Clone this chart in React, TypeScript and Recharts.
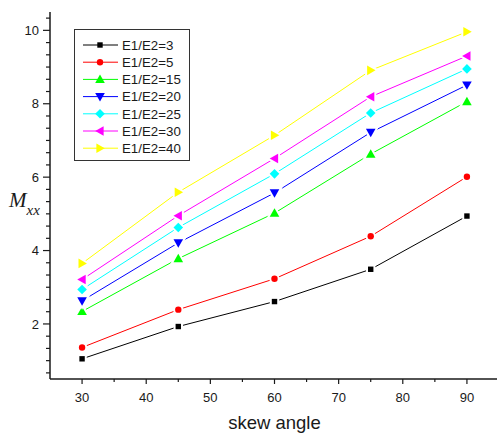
import { LineChart, Line, XAxis, YAxis, Legend } from 'recharts';

const angles = [30, 45, 60, 75, 90];
const ratio3 = [1.05, 1.93, 2.61, 3.49, 4.94];
const ratio5 = [1.36, 2.39, 3.23, 4.39, 6.01];
const ratio15 = [2.34, 3.78, 5.02, 6.63, 8.06];
const ratio20 = [2.63, 4.21, 5.57, 7.22, 8.51];
const ratio25 = [2.94, 4.63, 6.09, 7.75, 8.95];
const ratio30 = [3.21, 4.95, 6.51, 8.19, 9.3];
const ratio40 = [3.65, 5.59, 7.14, 8.91, 9.96];

const xTicks = [30, 35, 40, 45, 50, 55, 60, 65, 70, 75, 80, 85, 90];
const yMajor = [2, 4, 6, 8, 10];
const yTicks: number[] = [];
for (let k = -4; k <= 25; k++) yTicks.push(2 + k / 3);

type Shape = 'square' | 'circle' | 'up' | 'down' | 'diamond' | 'left' | 'right';

const series: { key: string; name: string; color: string; shape: Shape; values: number[] }[] = [
  { key: 'r3', name: 'E1/E2=3', color: '#000000', shape: 'square', values: ratio3 },
  { key: 'r5', name: 'E1/E2=5', color: '#ff0000', shape: 'circle', values: ratio5 },
  { key: 'r15', name: 'E1/E2=15', color: '#00ff00', shape: 'up', values: ratio15 },
  { key: 'r20', name: 'E1/E2=20', color: '#0000ff', shape: 'down', values: ratio20 },
  { key: 'r25', name: 'E1/E2=25', color: '#00ffff', shape: 'diamond', values: ratio25 },
  { key: 'r30', name: 'E1/E2=30', color: '#ff00ff', shape: 'left', values: ratio30 },
  { key: 'r40', name: 'E1/E2=40', color: '#ffff00', shape: 'right', values: ratio40 },
];

const data = angles.map((a, i) => {
  const row: Record<string, number> = { angle: a };
  series.forEach((s) => (row[s.key] = s.values[i]));
  return row;
});

const FONT = "Arial, 'Liberation Sans', sans-serif";
const INK = '#1a1a1a';

function Marker({ cx, cy, shape, color, gap }: { cx: number; cy: number; shape: Shape; color: string; gap?: boolean }) {
  const common = {
    fill: color,
    stroke: gap ? '#fff' : 'none',
    strokeWidth: gap ? 4 : 0,
    paintOrder: 'stroke' as const,
  };
  switch (shape) {
    case 'square':
      return <rect x={cx - 2.7} y={cy - 2.7} width={5.4} height={5.4} {...common} />;
    case 'circle':
      return <circle cx={cx} cy={cy} r={3.2} {...common} />;
    case 'up':
      return <polygon points={`${cx},${cy - 4.8} ${cx + 4.8},${cy + 3.6} ${cx - 4.8},${cy + 3.6}`} {...common} />;
    case 'down':
      return <polygon points={`${cx},${cy + 4.8} ${cx + 4.8},${cy - 3.6} ${cx - 4.8},${cy - 3.6}`} {...common} />;
    case 'diamond':
      return <polygon points={`${cx},${cy - 4.8} ${cx + 4.8},${cy} ${cx},${cy + 4.8} ${cx - 4.8},${cy}`} {...common} />;
    case 'left':
      return <polygon points={`${cx - 4.8},${cy} ${cx + 3.6},${cy - 4.8} ${cx + 3.6},${cy + 4.8}`} {...common} />;
    default:
      return <polygon points={`${cx + 4.8},${cy} ${cx - 3.6},${cy - 4.8} ${cx - 3.6},${cy + 4.8}`} {...common} />;
  }
}

const isMajorX = (v: number) => v % 10 === 0;
const isMajorY = (v: number) => yMajor.some((m) => Math.abs(m - v) < 1e-6);

function BottomTick(p: any) {
  const major = isMajorX(p.payload.value);
  return (
    <g>
      <line x1={p.x} x2={p.x} y1={p.y} y2={p.y + (major ? 5 : 3)} stroke={INK} strokeWidth={1.2} />
      {major && (
        <text x={p.x} y={p.y + 22.5} textAnchor="middle" fontSize={13} fontFamily={FONT} fill={INK}>
          {p.payload.value}
        </text>
      )}
    </g>
  );
}

function TopTick(p: any) {
  const major = isMajorX(p.payload.value);
  return <line x1={p.x} x2={p.x} y1={p.y} y2={p.y + (major ? 5 : 3)} stroke={INK} strokeWidth={1.2} />;
}

function LeftTick(p: any) {
  const v = p.payload.value;
  const major = isMajorY(v);
  return (
    <g>
      <line x1={p.x} x2={p.x - (major ? 7 : 4)} y1={p.y} y2={p.y} stroke={INK} strokeWidth={1.2} />
      {major && (
        <text x={p.x - 11} y={p.y + 4.6} textAnchor="end" fontSize={13} fontFamily={FONT} fill={INK}>
          {Math.round(v)}
        </text>
      )}
    </g>
  );
}

function RightTick(p: any) {
  const major = isMajorY(p.payload.value);
  return <line x1={p.x} x2={p.x - (major ? 6 : 3)} y1={p.y} y2={p.y} stroke={INK} strokeWidth={1.2} />;
}

function LegendBox() {
  return (
    <svg width={117} height={133} style={{ display: 'block' }}>
      <rect x={0.5} y={0.5} width={115} height={131} fill="#fff" stroke="#333" strokeWidth={1} />
      {series.map((s, i) => {
        const y = 16 + i * 17.2;
        return (
          <g key={s.key}>
            <line x1={9} x2={44} y1={y} y2={y} stroke={s.color} strokeWidth={1} />
            <Marker cx={26} cy={y} shape={s.shape} color={s.color} />
            <text x={48} y={y + 4.7} fontSize={13.3} fontFamily={FONT} fill={INK}>
              {s.name}
            </text>
          </g>
        );
      })}
    </svg>
  );
}

export default function App() {
  return (
    <div style={{ position: 'absolute', left: 0, top: 0, background: '#fff' }}>
      <LineChart width={497} height={437} data={data} margin={{ top: 12, right: -2, bottom: 0, left: 0 }}>
        <XAxis
          xAxisId="b"
          dataKey="angle"
          type="number"
          domain={[25, 95]}
          allowDataOverflow
          ticks={xTicks}
          interval={0}
          height={58}
          tickSize={0}
          tickMargin={0}
          tickLine={false}
          tick={BottomTick}
          axisLine={{ stroke: INK, strokeWidth: 1.5 }}
          label={{
            content: () => (
              <text x={274.5} y={429} textAnchor="middle" fontSize={18.5} fontFamily={FONT} fill={INK}>
                skew angle
              </text>
            ),
          }}
        />
        <XAxis
          xAxisId="t"
          orientation="top"
          mirror
          type="number"
          domain={[25, 95]}
          allowDataOverflow
          ticks={xTicks}
          interval={0}
          height={0}
          tickSize={0}
          tickMargin={0}
          tickLine={false}
          tick={TopTick}
          axisLine={{ stroke: INK, strokeWidth: 1.5 }}
        />
        <YAxis
          yAxisId="l"
          type="number"
          domain={[0.5, 10.5]}
          allowDataOverflow
          ticks={yTicks}
          interval={0}
          width={50}
          tickSize={0}
          tickMargin={0}
          tickLine={false}
          tick={LeftTick}
          axisLine={{ stroke: INK, strokeWidth: 1.5 }}
          label={{
            content: () => (
              <text x={9} y={207} fontFamily="'Times New Roman', 'Liberation Serif', serif" fontStyle="italic" fill={INK}>
                <tspan fontSize={21}>M</tspan>
                <tspan fontSize={15} dy={8}>xx</tspan>
              </text>
            ),
          }}
        />
        <YAxis
          yAxisId="r"
          orientation="right"
          mirror
          type="number"
          domain={[0.5, 10.5]}
          allowDataOverflow
          ticks={yTicks}
          interval={0}
          width={0}
          tickSize={0}
          tickMargin={0}
          tickLine={false}
          tick={RightTick}
          axisLine={{ stroke: INK, strokeWidth: 1.5 }}
        />
        <Legend
          layout="vertical"
          align="center"
          verticalAlign="middle"
          wrapperStyle={{ position: 'absolute', left: 74, top: 29, width: 117, height: 133 }}
          content={() => <LegendBox />}
        />
        {series.map((s) => (
          <Line
            key={s.key}
            xAxisId="b"
            yAxisId="l"
            type="linear"
            dataKey={s.key}
            name={s.name}
            stroke={s.color}
            strokeWidth={1}
            isAnimationActive={false}
            activeDot={false}
            dot={(p: any) => (
              <Marker key={`${s.key}-${p.index}`} cx={p.cx} cy={p.cy} shape={s.shape} color={s.color} gap />
            )}
          />
        ))}
      </LineChart>
    </div>
  );
}
